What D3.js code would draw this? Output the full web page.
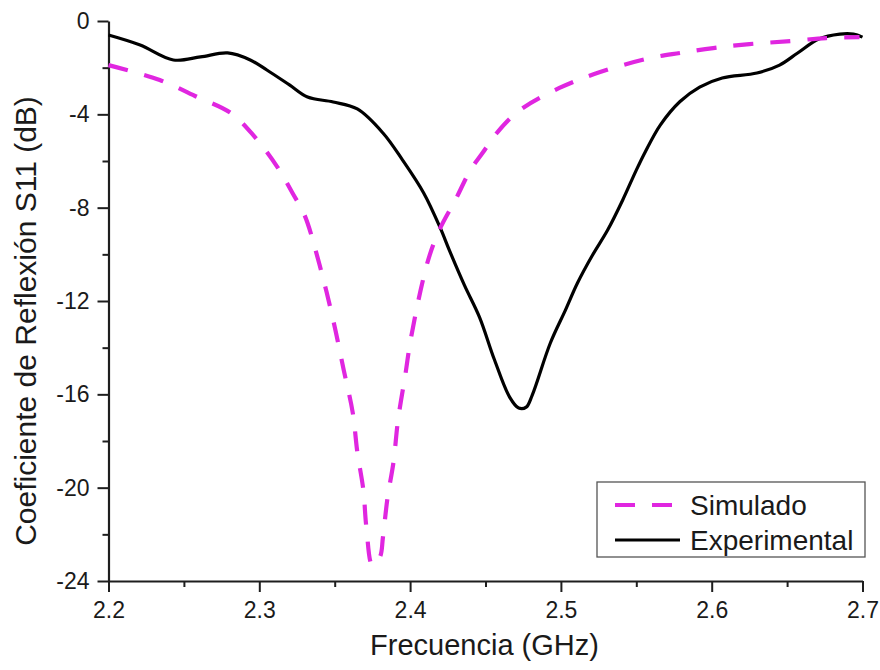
<!DOCTYPE html>
<html>
<head>
<meta charset="utf-8">
<script src="https://cdn.jsdelivr.net/npm/d3@7"></script>
<style>
  html, body { margin: 0; padding: 0; background: #fff; }
  svg { display: block; font-family: "Liberation Sans", Arial, sans-serif; }
</style>
</head>
<body>
<svg id="chart" width="880" height="670"></svg>
<script>
// ---- data ----
const freqSim = [2.200, 2.234, 2.259, 2.281, 2.296, 2.312, 2.322, 2.330, 2.340, 2.349, 2.356, 2.362, 2.365, 2.369, 2.371, 2.375, 2.380, 2.382, 2.385, 2.389, 2.392, 2.397, 2.400, 2.407, 2.413, 2.420, 2.430, 2.440, 2.448, 2.458, 2.473, 2.499, 2.526, 2.559, 2.579, 2.601, 2.625, 2.652, 2.676, 2.698];
const s11Sim  = [-1.89, -2.53, -3.26, -3.94, -4.89, -6.26, -7.37, -8.32, -10.46, -12.82, -14.96, -16.80, -18.47, -20.10, -21.69, -23.32, -22.97, -22.12, -20.45, -18.90, -17.10, -15.09, -13.80, -11.53, -10.03, -8.87, -7.67, -6.39, -5.66, -4.76, -3.81, -2.87, -2.19, -1.59, -1.37, -1.16, -0.99, -0.86, -0.73, -0.69];

const freqExp = [2.200, 2.221, 2.243, 2.261, 2.279, 2.294, 2.305, 2.320, 2.332, 2.349, 2.365, 2.382, 2.395, 2.409, 2.420, 2.426, 2.436, 2.446, 2.456, 2.466, 2.472, 2.477, 2.481, 2.493, 2.503, 2.511, 2.521, 2.531, 2.541, 2.550, 2.556, 2.566, 2.579, 2.592, 2.607, 2.630, 2.645, 2.657, 2.671, 2.685, 2.694, 2.700];
const s11Exp  = [-0.60, -1.03, -1.67, -1.54, -1.37, -1.67, -2.10, -2.74, -3.26, -3.47, -3.77, -4.80, -5.96, -7.37, -8.87, -9.82, -11.32, -12.69, -14.53, -16.12, -16.59, -16.55, -16.03, -13.80, -12.39, -11.23, -10.03, -8.96, -7.67, -6.39, -5.60, -4.45, -3.45, -2.83, -2.44, -2.23, -1.89, -1.37, -0.77, -0.56, -0.56, -0.69];

const xTicks = [2.2, 2.3, 2.4, 2.5, 2.6, 2.7];
const xMinor = [2.25, 2.35, 2.45, 2.55, 2.65];
const yTicks = [0, -4, -8, -12, -16, -20, -24];
const yMinor = [-2, -6, -10, -14, -18, -22];
const seriesNames = ["Simulado", "Experimental"];
const xTitle = "Frecuencia (GHz)";
const yTitle = "Coeficiente de Reflexión S11 (dB)";

// ---- layout ----
const L = 108.5, R = 862.5, T = 21, B = 581;
const svg = d3.select("#chart");
const x = d3.scaleLinear().domain([2.2, 2.7]).range([L, R]);
const y = d3.scaleLinear().domain([-24, 0]).range([B, T]);
const axisColor = "#1e1e1e";

// minor ticks
const gxm = svg.append("g").attr("transform", `translate(0,${B})`)
  .call(d3.axisBottom(x).tickValues(xMinor).tickSize(6).tickFormat(""));
const gym = svg.append("g").attr("transform", `translate(${L},0)`)
  .call(d3.axisLeft(y).tickValues(yMinor).tickSize(6).tickFormat(""));
[gxm, gym].forEach(g => { g.select(".domain").remove(); g.selectAll("line").attr("stroke", axisColor).attr("stroke-width", 2); });

// major axes
const gx = svg.append("g").attr("transform", `translate(0,${B})`)
  .call(d3.axisBottom(x).tickValues(xTicks).tickSize(11).tickSizeOuter(0).tickPadding(10).tickFormat(d3.format(".1f")));
const gy = svg.append("g").attr("transform", `translate(${L},0)`)
  .call(d3.axisLeft(y).tickValues(yTicks).tickSize(11).tickSizeOuter(0).tickPadding(8).tickFormat(d => d === 0 ? "0" : "-" + Math.abs(d)));
[gx, gy].forEach(g => {
  g.select(".domain").attr("stroke", axisColor).attr("stroke-width", 2.2);
  g.selectAll("line").attr("stroke", axisColor).attr("stroke-width", 2);
  g.selectAll("text").attr("fill", "#1a1a1a").style("font-size", "23px").style("font-family", "'Liberation Sans', Arial, sans-serif");
});

// axis titles
svg.append("text").attr("x", (L + R) / 2 - 1).attr("y", 655).attr("text-anchor", "middle")
  .attr("fill", "#1a1a1a").style("font-size", "29px").text(xTitle);
svg.append("text").attr("transform", `translate(36,${(T + B) / 2 + 20}) rotate(-90)`).attr("text-anchor", "middle")
  .attr("fill", "#1a1a1a").style("font-size", "30px").text(yTitle);

// lines
const line = d3.line().x(d => x(d[0])).y(d => y(d[1])).curve(d3.curveCatmullRom.alpha(0.5));
const simData = freqSim.map((f, i) => [f, s11Sim[i]]);
const expData = freqExp.map((f, i) => [f, s11Exp[i]]);
const magenta = "#e026e0";

svg.append("path").datum(expData).attr("d", line).attr("fill", "none")
  .attr("stroke", "#000").attr("stroke-width", 3.2).attr("stroke-linejoin", "round");
svg.append("path").datum(simData).attr("d", line).attr("fill", "none")
  .attr("stroke", magenta).attr("stroke-width", 4.2).attr("stroke-dasharray", "20,17");

// legend
const lg = svg.append("g");
lg.append("rect").attr("x", 597).attr("y", 482).attr("width", 268).attr("height", 75)
  .attr("fill", "#fff").attr("stroke", "#555").attr("stroke-width", 1.3);
const rows = [{ y: 505, color: magenta, dash: "20,17", w: 4.2 }, { y: 540, color: "#000", dash: null, w: 3.2 }];
rows.forEach((r, i) => {
  lg.append("line").attr("x1", 615).attr("x2", 680).attr("y1", r.y).attr("y2", r.y)
    .attr("stroke", r.color).attr("stroke-width", r.w).attr("stroke-dasharray", r.dash);
  lg.append("text").attr("x", 690).attr("y", r.y + 10).attr("fill", "#1a1a1a")
    .style("font-size", "28px").text(seriesNames[i]);
});
</script>
</body>
</html>
